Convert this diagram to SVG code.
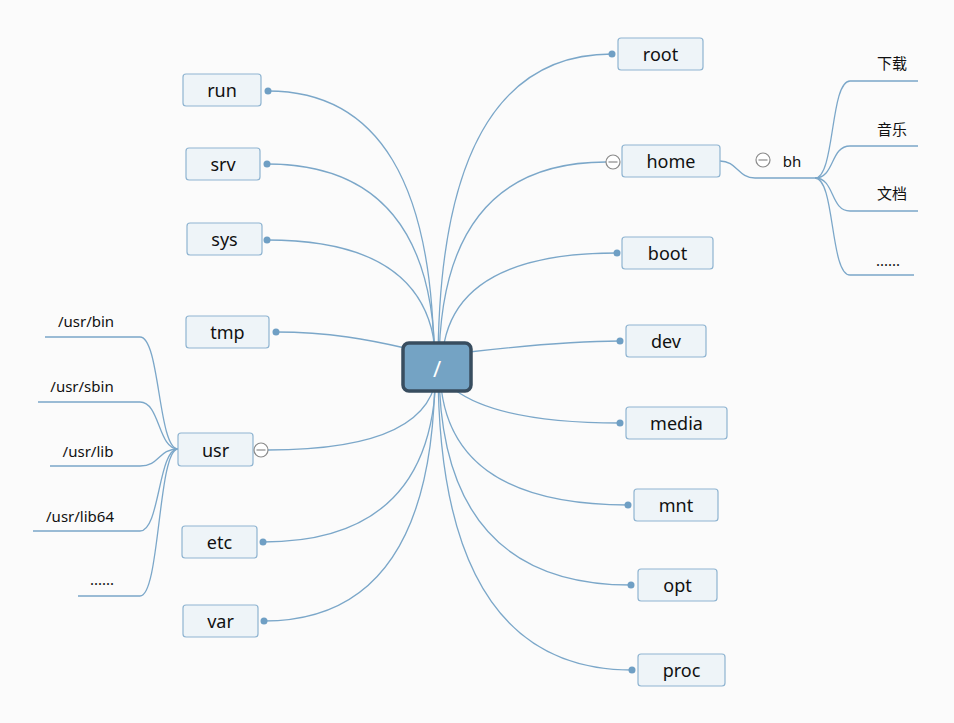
<svg xmlns="http://www.w3.org/2000/svg" width="954" height="723" viewBox="0 0 954 723">
<style>
.bg{fill:#fbfbfb}
.c{fill:none;stroke:#7ba7c9;stroke-width:1.3}
.d{fill:#6f9fc4}
.n{fill:#eef4f8;stroke:#8fb4d1;stroke-width:1.2}
.t{font-family:"Noto Sans","Liberation Sans",sans-serif;font-size:18px;fill:#111;text-anchor:middle;dominant-baseline:central}
.s{font-family:"Noto Sans","Noto Sans CJK SC","Liberation Sans",sans-serif;font-size:15px;fill:#111;text-anchor:middle;dominant-baseline:central}
.cc{fill:#fff;stroke:#8a8a8a;stroke-width:1.2}
.cl{stroke:#8a8a8a;stroke-width:1.2}
</style>
<rect class="bg" x="0" y="0" width="954" height="723"/>
<g id="connectors">
<path class="c" d="M434,367 Q434,91 268,91"/>
<path class="c" d="M435,367 Q435,164 267,164"/>
<path class="c" d="M436,367 Q436,240 267,240"/>
<path class="c" d="M276,332 C330,332 370,340 405,348"/>
<path class="c" d="M437,367 Q437,450 268,450"/>
<path class="c" d="M436,367 Q436,542 263,542"/>
<path class="c" d="M435,367 Q435,621 264,621"/>
<path class="c" d="M438,367 Q438,54 612,54"/>
<path class="c" d="M439,367 Q439,162 606,162"/>
<path class="c" d="M442,367 Q442,253 617,253"/>
<path class="c" d="M469,352 C530,345 580,341 620,341"/>
<path class="c" d="M455,390 Q500,423 620,423"/>
<path class="c" d="M440,367 Q440,505 628,505"/>
<path class="c" d="M439,367 Q439,585 631,585"/>
<path class="c" d="M438,367 Q438,670 632,670"/>
<path class="c" d="M720,161 C737,161 738,178 755,178 L815,178"/>
<path class="c" d="M815,178 C835,178 830,81 850,81 L918,81"/>
<path class="c" d="M815,178 C835,178 830,146 850,146 L918,146"/>
<path class="c" d="M815,178 C835,178 830,211 850,211 L918,211"/>
<path class="c" d="M815,178 C835,178 830,275 850,275 L914,275"/>
<path class="c" d="M178,449 C158,449 160,337 140,337 L45,337"/>
<path class="c" d="M178,449 C158,449 160,402 140,402 L38,402"/>
<path class="c" d="M178,449 C158,449 160,466 140,466 L50,466"/>
<path class="c" d="M178,449 C158,449 160,531 140,531 L33,531"/>
<path class="c" d="M178,449 C158,449 160,596 140,596 L78,596"/>
<circle class="d" cx="268" cy="91" r="3.5"/>
<circle class="d" cx="267" cy="164" r="3.5"/>
<circle class="d" cx="267" cy="240" r="3.5"/>
<circle class="d" cx="276" cy="332" r="3.5"/>
<circle class="d" cx="263" cy="542" r="3.5"/>
<circle class="d" cx="264" cy="621" r="3.5"/>
<circle class="d" cx="612" cy="54" r="3.5"/>
<circle class="d" cx="617" cy="253" r="3.5"/>
<circle class="d" cx="620" cy="341" r="3.5"/>
<circle class="d" cx="620" cy="423" r="3.5"/>
<circle class="d" cx="628" cy="505" r="3.5"/>
<circle class="d" cx="631" cy="585" r="3.5"/>
<circle class="d" cx="632" cy="670" r="3.5"/>
</g>
<g id="center"><rect x="403" y="343" width="68" height="48" rx="6" fill="#74a3c4" stroke="#384d5f" stroke-width="3.5"/><text x="437" y="368" class="t" style="fill:#fff;font-size:22px">/</text></g>
<g id="run"><rect class="n" x="183" y="74" width="78" height="32" rx="3"/><text class="t" x="222" y="90">run</text></g>
<g id="srv"><rect class="n" x="186" y="148" width="74" height="32" rx="3"/><text class="t" x="223" y="164">srv</text></g>
<g id="sys"><rect class="n" x="187" y="223" width="75" height="32" rx="3"/><text class="t" x="224.5" y="239">sys</text></g>
<g id="tmp"><rect class="n" x="186" y="316" width="83" height="32" rx="3"/><text class="t" x="227.5" y="332">tmp</text></g>
<g id="usr"><rect class="n" x="178" y="433" width="75" height="33" rx="3"/><text class="t" x="215.5" y="449.5">usr</text><circle class="cc" cx="261" cy="450" r="7"/><line class="cl" x1="256.5" y1="450" x2="265.5" y2="450"/></g>
<g id="etc"><rect class="n" x="182" y="526" width="75" height="32" rx="3"/><text class="t" x="219.5" y="542">etc</text></g>
<g id="var"><rect class="n" x="183" y="605" width="75" height="32" rx="3"/><text class="t" x="220.5" y="621">var</text></g>
<g id="root"><rect class="n" x="618" y="38" width="85" height="32" rx="3"/><text class="t" x="660.5" y="54">root</text></g>
<g id="home"><rect class="n" x="622" y="145" width="98" height="32" rx="3"/><text class="t" x="671" y="161">home</text><circle class="cc" cx="613" cy="162" r="7"/><line class="cl" x1="608.5" y1="162" x2="617.5" y2="162"/></g>
<g id="bh"><circle class="cc" cx="763" cy="160" r="7"/><line class="cl" x1="758.5" y1="160" x2="767.5" y2="160"/><text class="s" x="792" y="161" style="font-size:15px">bh</text></g>
<g id="boot"><rect class="n" x="622" y="237" width="91" height="32" rx="3"/><text class="t" x="667.5" y="253">boot</text></g>
<g id="dev"><rect class="n" x="626" y="325" width="80" height="32" rx="3"/><text class="t" x="666" y="341">dev</text></g>
<g id="media"><rect class="n" x="626" y="407" width="101" height="32" rx="3"/><text class="t" x="676.5" y="423">media</text></g>
<g id="mnt"><rect class="n" x="634" y="489" width="84" height="32" rx="3"/><text class="t" x="676" y="505">mnt</text></g>
<g id="opt"><rect class="n" x="638" y="569" width="79" height="32" rx="3"/><text class="t" x="677.5" y="585">opt</text></g>
<g id="proc"><rect class="n" x="638" y="654" width="87" height="32" rx="3"/><text class="t" x="681.5" y="670">proc</text></g>
<g id="xiazai"><text class="s" x="892" y="63">下载</text></g>
<g id="yinyue"><text class="s" x="892" y="129">音乐</text></g>
<g id="wendang"><text class="s" x="892" y="193">文档</text></g>
<g id="bh-more"><text class="s" x="888" y="260">......</text></g>
<g id="usr-bin"><text class="s" x="86" y="321">/usr/bin</text></g>
<g id="usr-sbin"><text class="s" x="82" y="386">/usr/sbin</text></g>
<g id="usr-lib"><text class="s" x="88" y="451">/usr/lib</text></g>
<g id="usr-lib64"><text class="s" x="80" y="516">/usr/lib64</text></g>
<g id="usr-more"><text class="s" x="102" y="579">......</text></g>
</svg>
